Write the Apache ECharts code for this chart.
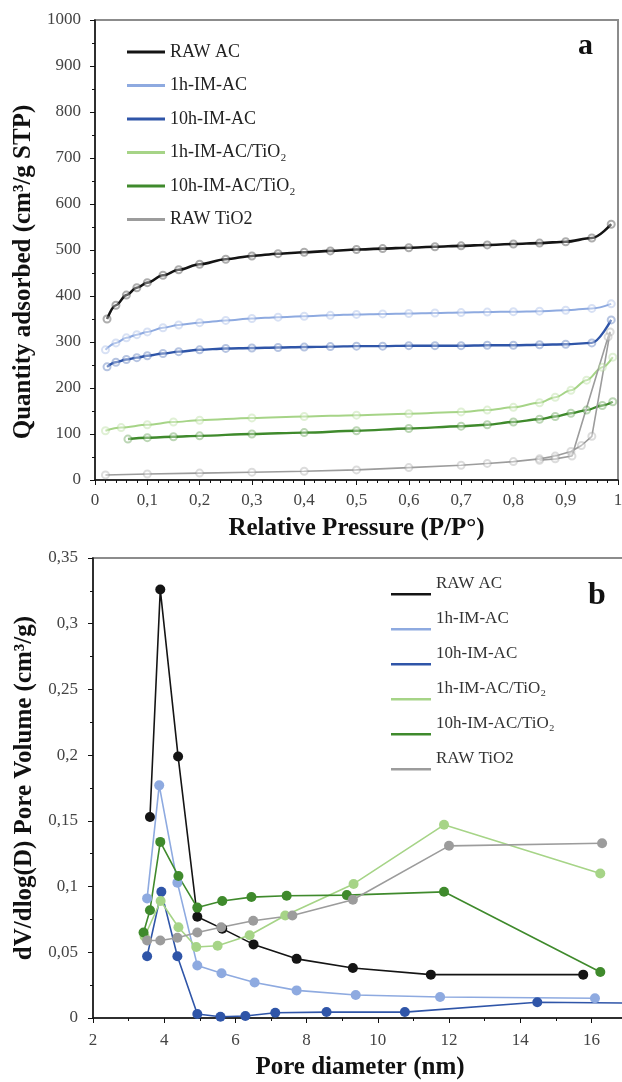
<!DOCTYPE html>
<html><head><meta charset="utf-8">
<script src="https://cdn.jsdelivr.net/npm/echarts@6/dist/echarts.min.js"></script>
<style>html,body{margin:0;padding:0;background:#fff}#c{width:622px;height:1082px}</style>
</head><body><div id="c"></div>
<script>
// ---------- names & colours ----------
const seriesNames = ['RAW AC', '1h-IM-AC', '10h-IM-AC', '1h-IM-AC/TiO₂', '10h-IM-AC/TiO₂', 'RAW TiO2'];
const seriesColors = ['#141414', '#8eaae0', '#2f55a8', '#a6d487', '#3f8a2c', '#9c9c9c'];

// ---------- panel a : N2 isotherms (P/P0 , cm3/g STP) ----------
const rawAC_P = [0.023, 0.04, 0.06, 0.08, 0.1, 0.13, 0.16, 0.2, 0.25, 0.3, 0.35, 0.4, 0.45, 0.5, 0.55, 0.6, 0.65, 0.7, 0.75, 0.8, 0.85, 0.9, 0.95, 0.987];
const rawAC_Q = [350, 380, 402, 418, 429, 445, 457, 469, 480, 487, 492, 495, 498, 501, 503, 505, 507, 509, 511, 513, 515, 518, 526, 556];

const h1_P = [0.02, 0.04, 0.06, 0.08, 0.1, 0.13, 0.16, 0.2, 0.25, 0.3, 0.35, 0.4, 0.45, 0.5, 0.55, 0.6, 0.65, 0.7, 0.75, 0.8, 0.85, 0.9, 0.95, 0.987];
const h1_Q = [283, 298, 309, 316, 322, 331, 337, 342, 347, 351, 354, 356, 358, 360, 361, 362, 363, 364, 365, 366, 367, 369, 373, 383];

const h10_P = [0.023, 0.04, 0.06, 0.08, 0.1, 0.13, 0.16, 0.2, 0.25, 0.3, 0.35, 0.4, 0.45, 0.5, 0.55, 0.6, 0.65, 0.7, 0.75, 0.8, 0.85, 0.9, 0.95, 0.987];
const h10_Q = [246, 256, 262, 266, 270, 275, 279, 283, 286, 287, 288, 289, 290, 291, 291, 292, 292, 292, 293, 293, 294, 295, 298, 348];

const h1T_P = [0.02, 0.05, 0.1, 0.15, 0.2, 0.3, 0.4, 0.5, 0.6, 0.7, 0.75, 0.8, 0.85, 0.88, 0.91, 0.94, 0.97, 0.99];
const h1T_Q = [107, 114, 120, 126, 130, 135, 138, 141, 144, 148, 152, 158, 168, 180, 195, 217, 245, 267];

const h10T_P = [0.063, 0.1, 0.15, 0.2, 0.3, 0.4, 0.5, 0.6, 0.7, 0.75, 0.8, 0.85, 0.88, 0.91, 0.94, 0.97, 0.99];
const h10T_Q = [89, 92, 94, 96, 100, 103, 107, 112, 117, 120, 126, 132, 138, 145, 152, 162, 170];

// RAW TiO2: adsorption branch followed by desorption branch (hysteresis loop)
const rawT_P = [0.02, 0.1, 0.2, 0.3, 0.4, 0.5, 0.6, 0.7, 0.75, 0.8, 0.85, 0.88, 0.91, 0.93, 0.95, 0.985, 0.981, 0.912, 0.88, 0.85];
const rawT_Q = [11, 13, 15, 17, 19, 22, 27, 32, 36, 40, 46, 52, 62, 75, 95, 322, 311, 52, 46, 43];

// ---------- panel b : pore size distribution (nm , cm3/g) ----------
const rawAC_D = [3.6, 3.89, 4.39, 4.93, 5.63, 6.51, 7.72, 9.3, 11.49, 15.77];
const rawAC_V = [0.153, 0.326, 0.199, 0.077, 0.068, 0.056, 0.045, 0.038, 0.033, 0.033];

const h1_D = [3.52, 3.86, 4.37, 4.93, 5.61, 6.54, 7.72, 9.38, 11.75, 16.1];
const h1_V = [0.091, 0.177, 0.103, 0.040, 0.034, 0.027, 0.021, 0.0175, 0.016, 0.015];

const h10_D = [3.52, 3.92, 4.37, 4.93, 5.58, 6.28, 7.12, 8.56, 10.76, 14.48, 18.5];
const h10_V = [0.047, 0.096, 0.047, 0.003, 0.001, 0.0015, 0.004, 0.0045, 0.0045, 0.012, 0.011];

const h1T_D = [3.45, 3.9, 4.4, 4.9, 5.5, 6.4, 7.4, 9.32, 11.86, 16.25];
const h1T_V = [0.062, 0.089, 0.069, 0.054, 0.055, 0.063, 0.078, 0.102, 0.147, 0.110];

const h10T_D = [3.42, 3.6, 3.89, 4.4, 4.93, 5.63, 6.45, 7.44, 9.13, 11.86, 16.25];
const h10T_V = [0.065, 0.082, 0.134, 0.108, 0.084, 0.089, 0.092, 0.093, 0.0935, 0.096, 0.035];

const rawT_D = [3.52, 3.89, 4.37, 4.93, 5.6, 6.5, 7.6, 9.3, 12.0, 16.3];
const rawT_V = [0.059, 0.059, 0.061, 0.065, 0.069, 0.074, 0.078, 0.090, 0.131, 0.133];

// ---------- helpers ----------
const zip = (xs, ys) => xs.map((x, i) => [x, ys[i]]);
const comma = v => String(+(+v).toFixed(3)).replace('.', ',');
const SERIF = '"Liberation Serif", "Times New Roman", serif';

const isoX = [rawAC_P, h1_P, h10_P, h1T_P, h10T_P, rawT_P];
const isoY = [rawAC_Q, h1_Q, h10_Q, h1T_Q, h10T_Q, rawT_Q];
const psdX = [rawAC_D, h1_D, h10_D, h1T_D, h10T_D, rawT_D];
const psdY = [rawAC_V, h1_V, h10_V, h1T_V, h10T_V, rawT_V];
const isoWidth = [2.6, 2, 2.4, 2, 2.4, 1.6];

const series = [];
seriesNames.forEach((n, i) => {
  series.push({
    name: n, type: 'line', xAxisIndex: 0, yAxisIndex: 0,
    data: zip(isoX[i], isoY[i]),
    smooth: i === 5 ? false : 0.35, smoothMonotone: i === 5 ? undefined : 'x',
    symbol: 'emptyCircle', symbolSize: 7,
    lineStyle: { color: seriesColors[i], width: isoWidth[i] },
    itemStyle: { color: seriesColors[i], opacity: 0.35, borderWidth: 1.2 },
    emphasis: { disabled: true }, z: 3
  });
});
seriesNames.forEach((n, i) => {
  series.push({
    name: n, type: 'line', xAxisIndex: 1, yAxisIndex: 1,
    data: zip(psdX[i], psdY[i]),
    symbol: 'circle', symbolSize: 10,
    lineStyle: { color: seriesColors[i], width: 1.6 },
    itemStyle: { color: seriesColors[i] },
    emphasis: { disabled: true }, z: 3
  });
});

const axisCommon = {
  axisLine: { lineStyle: { color: '#111', width: 1.5 } },
  axisTick: { show: true, length: 5, lineStyle: { color: '#111', width: 1 } },
  minorTick: { show: true, length: 3, lineStyle: { color: '#111', width: 1 } },
  splitLine: { show: false },
  nameLocation: 'middle',
  nameTextStyle: { fontFamily: SERIF, fontWeight: 'bold', fontSize: 25, color: '#111' }
};
const labelCommon = { fontFamily: SERIF, fontSize: 17, color: '#444' };

const option = {
  animation: false,
  backgroundColor: '#fff',
  grid: [
    { left: 95, top: 20, width: 523, height: 460, outerBoundsMode: 'none', containLabel: false, show: true, borderColor: '#8c8c8c', borderWidth: 2, backgroundColor: 'transparent' },
    { left: 93, top: 558, width: 534, height: 460, outerBoundsMode: 'none', containLabel: false, show: true, borderColor: '#8c8c8c', borderWidth: 2, backgroundColor: 'transparent' }
  ],
  xAxis: [
    Object.assign({}, axisCommon, {
      type: 'value', gridIndex: 0, min: 0, max: 1, interval: 0.1,
      name: 'Relative Pressure (P/P°)', nameGap: 36,
      minorTick: Object.assign({}, axisCommon.minorTick, { splitNumber: 5 }),
      axisLabel: Object.assign({}, labelCommon, { margin: 12, formatter: comma })
    }),
    Object.assign({}, axisCommon, {
      type: 'value', gridIndex: 1, min: 2, max: 17, interval: 2,
      name: 'Pore diameter (nm)', nameGap: 37,
      minorTick: Object.assign({}, axisCommon.minorTick, { splitNumber: 2 }),
      axisLabel: Object.assign({}, labelCommon, { margin: 14, formatter: v => (v > 16.5 ? '' : comma(v)) })
    })
  ],
  yAxis: [
    Object.assign({}, axisCommon, {
      type: 'value', gridIndex: 0, min: 0, max: 1000, interval: 100,
      name: 'Quantity adsorbed (cm³/g STP)', nameGap: 57,
      nameTextStyle: Object.assign({}, axisCommon.nameTextStyle, { padding: [0, 44, 0, 0] }),
      minorTick: Object.assign({}, axisCommon.minorTick, { splitNumber: 2 }),
      axisLabel: Object.assign({}, labelCommon, { margin: 14, formatter: comma })
    }),
    Object.assign({}, axisCommon, {
      type: 'value', gridIndex: 1, min: 0, max: 0.35, interval: 0.05,
      name: 'dV/dlog(D) Pore Volume (cm³/g)', nameGap: 48,
      minorTick: Object.assign({}, axisCommon.minorTick, { splitNumber: 2 }),
      axisLabel: Object.assign({}, labelCommon, { margin: 15, formatter: comma })
    })
  ],
  legend: [
    {
      data: seriesNames, orient: 'vertical', left: 122, top: 38,
      icon: 'rect', itemWidth: 38, itemHeight: 3, itemGap: 15.5,
      itemStyle: { opacity: 1, borderWidth: 0 },
      selectedMode: false,
      textStyle: { fontFamily: SERIF, fontSize: 18, color: '#222' }
    },
    {
      data: seriesNames, orient: 'vertical', left: 386, top: 566,
      icon: 'path://M0,0L40,0L0,0Z M0,22L40,22L40,24.5L0,24.5Z',
      itemWidth: 40, itemHeight: 24.5, itemGap: 10.5,
      itemStyle: { opacity: 1, borderWidth: 0 },
      selectedMode: false,
      textStyle: { fontFamily: SERIF, fontSize: 17, color: '#333' }
    }
  ],
  graphic: [
    { type: 'text', left: 578, top: 31, style: { text: 'a', font: 'bold 30px "Liberation Serif"', fill: '#111' } },
    { type: 'text', left: 588, top: 580, style: { text: 'b', font: 'bold 32px "Liberation Serif"', fill: '#111' } }
  ],
  series: series
};

const chart = echarts.init(document.getElementById('c'), null, { renderer: 'canvas' });
chart.setOption(option);
</script>
</body></html>
